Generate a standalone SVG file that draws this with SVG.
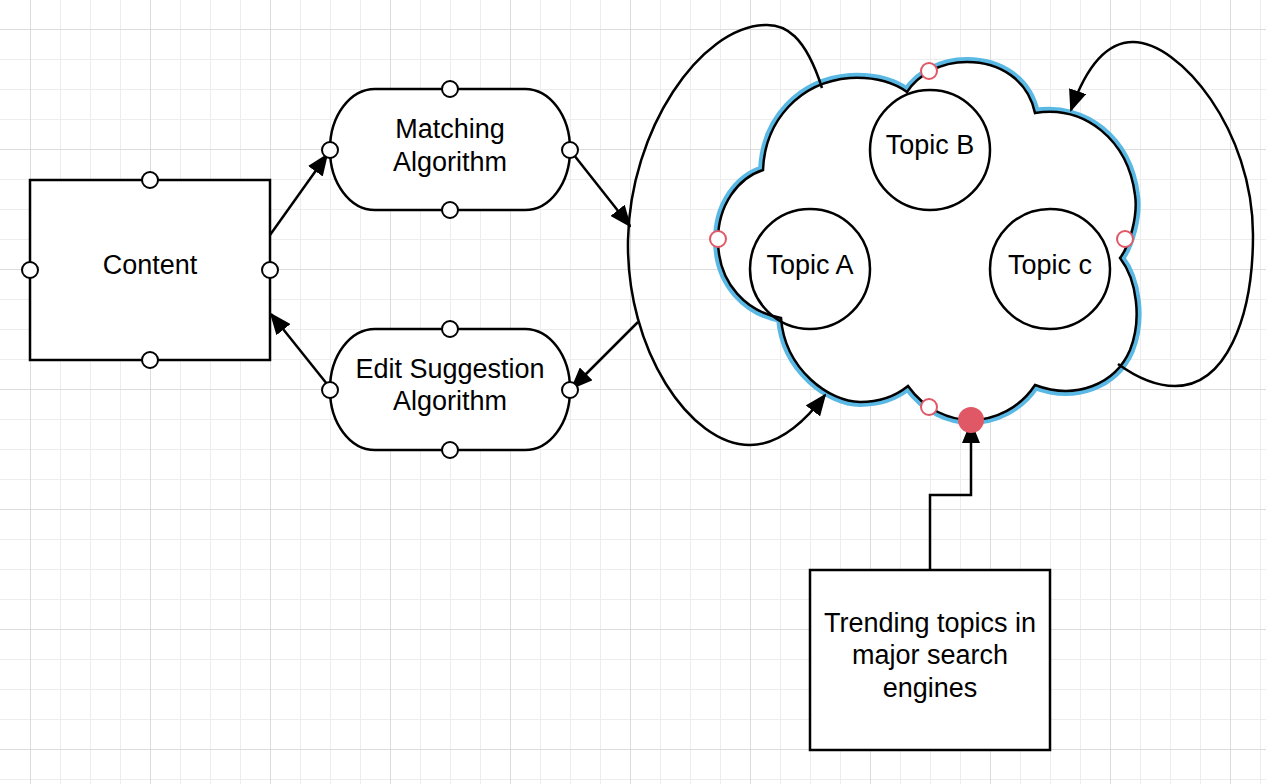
<svg xmlns="http://www.w3.org/2000/svg" width="1266" height="784" viewBox="0 0 1266 784">
<style>
.minor{stroke:#ededed;stroke-width:1;fill:none}
.major{stroke:#dcdcdc;stroke-width:1;fill:none}
.shape{fill:#fff;stroke:#000;stroke-width:2.5}
.ring{fill:none;stroke:#000;stroke-width:2.5}
.dot{fill:#fff;stroke:#000;stroke-width:2}
.rdot{fill:#fff;stroke:#e05866;stroke-width:2}
.conn{fill:none;stroke:#000;stroke-width:2.5;marker-end:url(#arr)}
text{font-family:"Liberation Sans",Arial,sans-serif;font-size:27px;fill:#000;text-anchor:middle}
</style>
<defs>
<marker id="arr" viewBox="0 0 22 18" refX="20" refY="9" markerWidth="22" markerHeight="18" markerUnits="userSpaceOnUse" orient="auto">
<path d="M0,0 L22,9 L0,18 Z" fill="#000"/>
</marker>
<path id="cloudPath" d="M763,170 C738,178 718,205 718,240 C718,285 748,312 781,318 C785,370 830,402 860,402 C880,402 897,395 908,386 C925,410 950,420 971,420 C995,420 1020,408 1035,385 C1075,400 1115,385 1130,350 C1142,320 1137,280 1120,258 C1130,245 1138,215 1135,195 C1128,140 1085,105 1035,113 C1028,80 1000,62 967,62 C940,62 918,75 907,92 C890,80 870,77 850,78 C800,82 765,120 763,170 Z"/>
</defs>
<rect width="1266" height="784" fill="#fff"/>
<g id="grid">
<path class="minor" d="M60.5,0V784M90.5,0V784M120.5,0V784M180.5,0V784M210.5,0V784M240.5,0V784M300.5,0V784M330.5,0V784M360.5,0V784M420.5,0V784M450.5,0V784M480.5,0V784M540.5,0V784M570.5,0V784M600.5,0V784M660.5,0V784M690.5,0V784M720.5,0V784M780.5,0V784M810.5,0V784M840.5,0V784M900.5,0V784M930.5,0V784M960.5,0V784M1020.5,0V784M1050.5,0V784M1080.5,0V784M1140.5,0V784M1170.5,0V784M1200.5,0V784M1260.5,0V784"/>
<path class="minor" d="M0,59.5H1266M0,89.5H1266M0,119.5H1266M0,179.5H1266M0,209.5H1266M0,239.5H1266M0,299.5H1266M0,329.5H1266M0,359.5H1266M0,419.5H1266M0,449.5H1266M0,479.5H1266M0,539.5H1266M0,569.5H1266M0,599.5H1266M0,659.5H1266M0,689.5H1266M0,719.5H1266M0,779.5H1266"/>
<path class="major" d="M30.5,0V784M150.5,0V784M270.5,0V784M390.5,0V784M510.5,0V784M630.5,0V784M750.5,0V784M870.5,0V784M990.5,0V784M1110.5,0V784M1230.5,0V784"/>
<path class="major" d="M0,29.5H1266M0,149.5H1266M0,269.5H1266M0,389.5H1266M0,509.5H1266M0,629.5H1266M0,749.5H1266"/>
</g>
<g id="node-cloud">
<use href="#cloudPath" fill="none" stroke="#5ab9e4" stroke-width="10"/>
<use href="#cloudPath" fill="#fff" stroke="#000" stroke-width="2.5"/>
</g>
<g id="topic-a">
<circle class="ring" cx="810" cy="269" r="60"/>
<text x="810" y="274">Topic A</text>
</g>
<g id="topic-b">
<circle class="ring" cx="930" cy="150" r="60"/>
<text x="930" y="154">Topic B</text>
</g>
<g id="topic-c">
<circle class="ring" cx="1050" cy="269" r="60"/>
<text x="1050" y="274">Topic c</text>
</g>
<g id="node-content">
<rect class="shape" x="30" y="180" width="240" height="180"/>
<text x="150" y="274">Content</text>
</g>
<g id="node-matching">
<rect class="shape" x="330" y="89" width="240" height="121" rx="45" ry="60"/>
<text x="450" y="138">Matching</text>
<text x="450" y="171">Algorithm</text>
</g>
<g id="node-edit">
<rect class="shape" x="330" y="329" width="240" height="121" rx="45" ry="60"/>
<text x="450" y="378">Edit Suggestion</text>
<text x="450" y="410">Algorithm</text>
</g>
<g id="node-trending">
<rect class="shape" x="810" y="570" width="240" height="180"/>
<text x="930" y="632">Trending topics in</text>
<text x="930" y="664">major search</text>
<text x="930" y="697">engines</text>
</g>
<g id="connectors">
<path class="conn" d="M270,235 L327,155"/>
<path class="conn" d="M570,150 L630,226"/>
<path class="conn" d="M638,322 L572,388"/>
<path class="conn" d="M327,384 L271,314"/>
<path class="conn" d="M822,88 C805,35 785,24 765,25 C700,27 630,130 628,240 C626,350 690,445 750,445 C775,445 800,428 825,395"/>
<path class="conn" d="M1118,364 C1140,380 1160,386 1175,386 C1225,386 1253,320 1253,235 C1253,130 1180,42 1133,42 C1105,42 1085,70 1071,110"/>
<path class="conn" d="M930,570 L930,495 L971,495 L971,423"/>
</g>
<g id="ports">
<circle class="dot" cx="150" cy="180" r="8"/>
<circle class="dot" cx="150" cy="360" r="8"/>
<circle class="dot" cx="30" cy="270" r="8"/>
<circle class="dot" cx="270" cy="270" r="8"/>
<circle class="dot" cx="450" cy="89" r="8"/>
<circle class="dot" cx="450" cy="210" r="8"/>
<circle class="dot" cx="330" cy="150" r="8"/>
<circle class="dot" cx="570" cy="150" r="8"/>
<circle class="dot" cx="450" cy="329" r="8"/>
<circle class="dot" cx="450" cy="450" r="8"/>
<circle class="dot" cx="330" cy="390" r="8"/>
<circle class="dot" cx="570" cy="390" r="8"/>
<circle class="rdot" cx="718" cy="239" r="8"/>
<circle class="rdot" cx="929" cy="71" r="8"/>
<circle class="rdot" cx="1125" cy="239" r="8"/>
<circle class="rdot" cx="929" cy="407" r="8"/>
<circle cx="971" cy="420" r="13" fill="#e05866"/>
</g>
</svg>
